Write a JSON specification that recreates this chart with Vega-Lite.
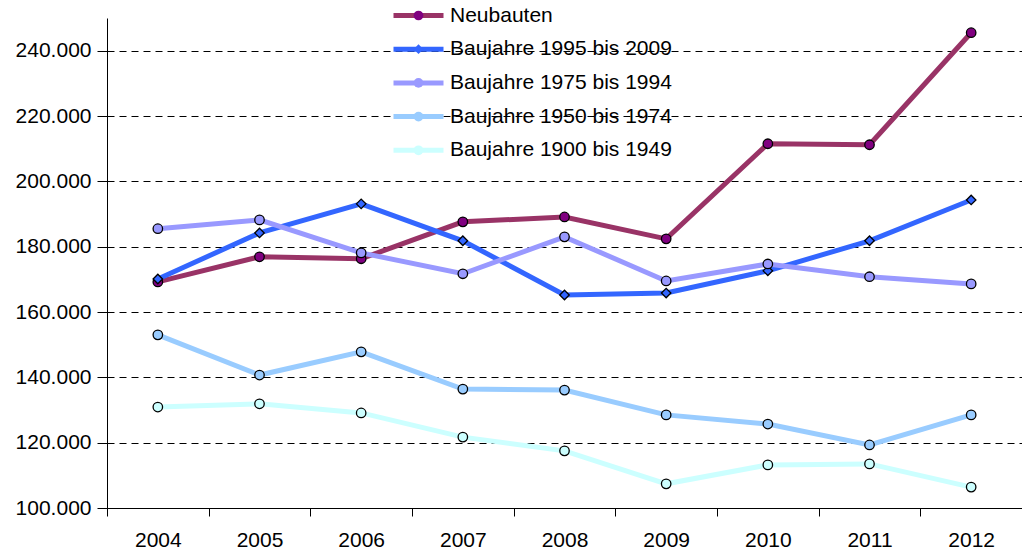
{
  "$schema": "https://vega.github.io/schema/vega-lite/v6.json",
  "width": 915,
  "height": 490,
  "autosize": {"type": "none"},
  "padding": {"left": 107, "top": 18, "right": 0, "bottom": 45},
  "background": "white",
  "config": {
    "view": {"stroke": null},
    "font": "Liberation Sans",
    "legend": {"padding": 0}
  },
  "data": {
    "values": [
      {"year": "2004", "series": "Neubauten", "value": 169200},
      {"year": "2005", "series": "Neubauten", "value": 176900},
      {"year": "2006", "series": "Neubauten", "value": 176300},
      {"year": "2007", "series": "Neubauten", "value": 187600},
      {"year": "2008", "series": "Neubauten", "value": 189100},
      {"year": "2009", "series": "Neubauten", "value": 182400},
      {"year": "2010", "series": "Neubauten", "value": 211500},
      {"year": "2011", "series": "Neubauten", "value": 211200},
      {"year": "2012", "series": "Neubauten", "value": 245500},
      {"year": "2004", "series": "Baujahre 1995 bis 2009", "value": 170100},
      {"year": "2005", "series": "Baujahre 1995 bis 2009", "value": 184200},
      {"year": "2006", "series": "Baujahre 1995 bis 2009", "value": 193100},
      {"year": "2007", "series": "Baujahre 1995 bis 2009", "value": 181800},
      {"year": "2008", "series": "Baujahre 1995 bis 2009", "value": 165200},
      {"year": "2009", "series": "Baujahre 1995 bis 2009", "value": 165800},
      {"year": "2010", "series": "Baujahre 1995 bis 2009", "value": 172600},
      {"year": "2011", "series": "Baujahre 1995 bis 2009", "value": 181800},
      {"year": "2012", "series": "Baujahre 1995 bis 2009", "value": 194300},
      {"year": "2004", "series": "Baujahre 1975 bis 1994", "value": 185500},
      {"year": "2005", "series": "Baujahre 1975 bis 1994", "value": 188200},
      {"year": "2006", "series": "Baujahre 1975 bis 1994", "value": 178100},
      {"year": "2007", "series": "Baujahre 1975 bis 1994", "value": 171700},
      {"year": "2008", "series": "Baujahre 1975 bis 1994", "value": 183000},
      {"year": "2009", "series": "Baujahre 1975 bis 1994", "value": 169500},
      {"year": "2010", "series": "Baujahre 1975 bis 1994", "value": 174700},
      {"year": "2011", "series": "Baujahre 1975 bis 1994", "value": 170800},
      {"year": "2012", "series": "Baujahre 1975 bis 1994", "value": 168600},
      {"year": "2004", "series": "Baujahre 1950 bis 1974", "value": 153000},
      {"year": "2005", "series": "Baujahre 1950 bis 1974", "value": 140700},
      {"year": "2006", "series": "Baujahre 1950 bis 1974", "value": 147800},
      {"year": "2007", "series": "Baujahre 1950 bis 1974", "value": 136400},
      {"year": "2008", "series": "Baujahre 1950 bis 1974", "value": 136100},
      {"year": "2009", "series": "Baujahre 1950 bis 1974", "value": 128500},
      {"year": "2010", "series": "Baujahre 1950 bis 1974", "value": 125700},
      {"year": "2011", "series": "Baujahre 1950 bis 1974", "value": 119300},
      {"year": "2012", "series": "Baujahre 1950 bis 1974", "value": 128500},
      {"year": "2004", "series": "Baujahre 1900 bis 1949", "value": 130900},
      {"year": "2005", "series": "Baujahre 1900 bis 1949", "value": 131900},
      {"year": "2006", "series": "Baujahre 1900 bis 1949", "value": 129100},
      {"year": "2007", "series": "Baujahre 1900 bis 1949", "value": 121700},
      {"year": "2008", "series": "Baujahre 1900 bis 1949", "value": 117500},
      {"year": "2009", "series": "Baujahre 1900 bis 1949", "value": 107400},
      {"year": "2010", "series": "Baujahre 1900 bis 1949", "value": 113200},
      {"year": "2011", "series": "Baujahre 1900 bis 1949", "value": 113500},
      {"year": "2012", "series": "Baujahre 1900 bis 1949", "value": 106400}
    ]
  },
  "encoding": {
    "x": {
      "field": "year",
      "type": "ordinal",
      "scale": {"type": "band", "paddingInner": 0, "paddingOuter": 0},
      "axis": {
        "title": null,
        "labelAngle": 0,
        "labelFontSize": 21,
        "labelColor": "#000000",
        "labelPadding": 13,
        "tickBand": "extent",
        "tickSize": 8,
        "tickColor": "#000000",
        "domainColor": "#000000",
        "domainWidth": 1,
        "grid": false
      }
    },
    "y": {
      "field": "value",
      "type": "quantitative",
      "scale": {"domain": [100000, 250000], "nice": false, "zero": false},
      "axis": {
        "title": null,
        "values": [100000, 120000, 140000, 160000, 180000, 200000, 220000, 240000],
        "labelExpr": "replace(format(datum.value, ','), ',', '.')",
        "labelFontSize": 21,
        "labelColor": "#000000",
        "labelPadding": 6,
        "tickSize": 10,
        "tickColor": "#000000",
        "domainColor": "#000000",
        "grid": true,
        "gridColor": "#000000",
        "gridDash": [7, 5],
        "gridWidth": 1,
        "gridOpacity": 1
      }
    }
  },
  "layer": [
    {
      "mark": {"type": "line", "strokeWidth": 5},
      "encoding": {
        "stroke": {
          "field": "series",
          "type": "nominal",
          "sort": ["Neubauten", "Baujahre 1995 bis 2009", "Baujahre 1975 bis 1994", "Baujahre 1950 bis 1974", "Baujahre 1900 bis 1949"],
          "scale": {
            "range": ["#993366", "#3366FF", "#9999FF", "#99CCFF", "#CCFFFF"]
          },
          "legend": {
            "title": null,
            "orient": "none",
            "legendX": 286,
            "legendY": -13,
            "symbolType": "M-5,0H5",
            "symbolSize": 100,
            "symbolStrokeWidth": 5,
            "symbolOffset": 15,
            "labelOffset": 21,
            "labelFontSize": 21,
            "labelColor": "#000000",
            "labelLimit": 400,
            "rowPadding": 11.7
          }
        }
      }
    },
    {
      "mark": {"type": "point", "filled": true, "stroke": "#000000", "strokeWidth": 1.3, "opacity": 1, "size": 90},
      "encoding": {
        "fill": {
          "field": "series",
          "type": "nominal",
          "scale": {
            "domain": ["Neubauten", "Baujahre 1995 bis 2009", "Baujahre 1975 bis 1994", "Baujahre 1950 bis 1974", "Baujahre 1900 bis 1949"],
            "range": ["#800080", "#3366FF", "#9999FF", "#99CCFF", "#CCFFFF"]
          },
          "legend": {
            "title": null,
            "orient": "none",
            "legendX": 286,
            "legendY": -13,
            "symbolSize": 95,
            "symbolStrokeColor": "#000000",
            "symbolStrokeWidth": 1.3,
            "symbolOffset": 15,
            "labelOffset": 21,
            "labelFontSize": 21,
            "labelOpacity": 0,
            "labelLimit": 400,
            "rowPadding": 11.7
          }
        },
        "shape": {
          "field": "series",
          "type": "nominal",
          "scale": {
            "domain": ["Neubauten", "Baujahre 1995 bis 2009", "Baujahre 1975 bis 1994", "Baujahre 1950 bis 1974", "Baujahre 1900 bis 1949"],
            "range": ["circle", "diamond", "circle", "circle", "circle"]
          },
          "legend": {
            "title": null,
            "orient": "none",
            "legendX": 286,
            "legendY": -13,
            "symbolSize": 95,
            "symbolStrokeColor": "#000000",
            "symbolStrokeWidth": 1.3,
            "symbolOffset": 15,
            "labelOffset": 21,
            "labelFontSize": 21,
            "labelOpacity": 0,
            "labelLimit": 400,
            "rowPadding": 11.7
          }
        }
      }
    }
  ]
}
